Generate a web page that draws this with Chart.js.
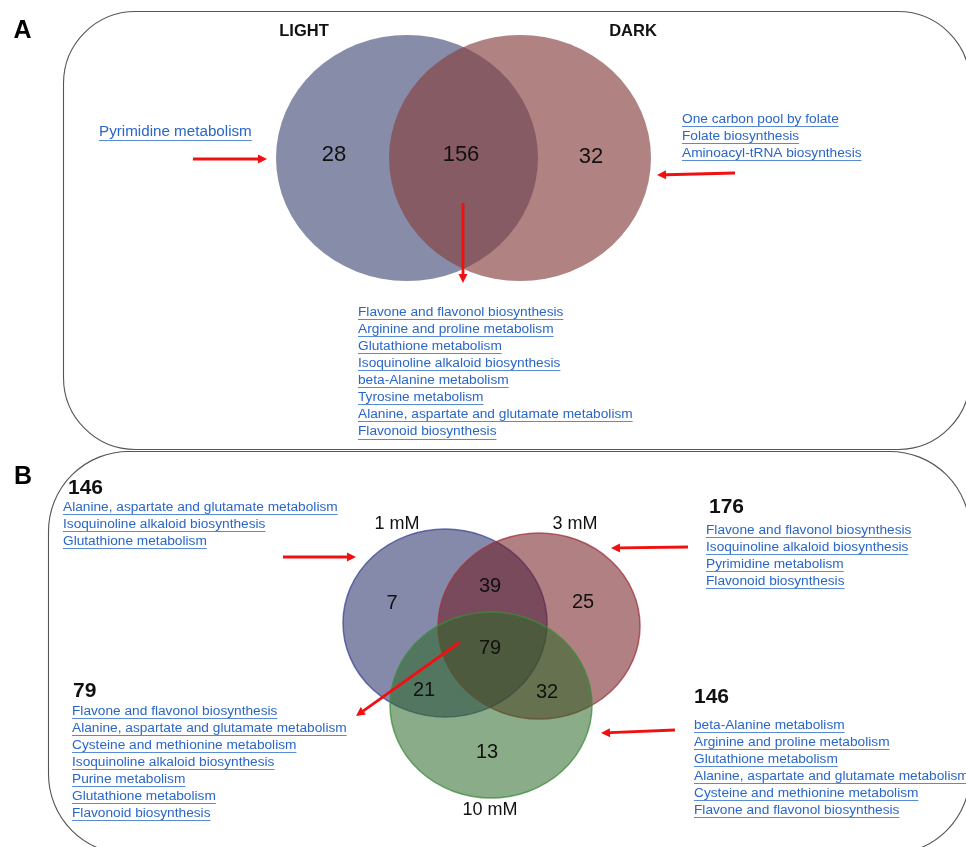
<!DOCTYPE html>
<html>
<head>
<meta charset="utf-8">
<script src="https://cdn.jsdelivr.net/npm/chart.js@4.4.1/dist/chart.umd.min.js"></script>
<style>
  html, body { margin: 0; padding: 0; background: #ffffff; }
  canvas { display: block; }
</style>
</head>
<body>
<canvas id="venn" width="966" height="847"></canvas>
<script>
// ---- Panel A: enriched pathways under light vs dark ----
const lightDarkSets = ['LIGHT', 'DARK'];
const lightDarkCounts = [28, 156, 32];            // light only, shared, dark only
const lightOnlyPathways = ['Pyrimidine metabolism'];
const darkOnlyPathways = [
  'One carbon pool by folate',
  'Folate biosynthesis',
  'Aminoacyl-tRNA biosynthesis'
];
const sharedLightDarkPathways = [
  'Flavone and flavonol biosynthesis',
  'Arginine and proline metabolism',
  'Glutathione metabolism',
  'Isoquinoline alkaloid biosynthesis',
  'beta-Alanine metabolism',
  'Tyrosine metabolism',
  'Alanine, aspartate and glutamate metabolism',
  'Flavonoid biosynthesis'
];

// ---- Panel B: enriched pathways at three concentrations ----
const doseSets = ['1 mM', '3 mM', '10 mM'];
// 1 only, 1&3, 3 only, all three, 1&10, 3&10, 10 only
const doseCounts = [7, 39, 25, 79, 21, 32, 13];
const doseTotals = [146, 176, 146];
const doseCoreTotal = 79;
const dose1Pathways = [
  'Alanine, aspartate and glutamate metabolism',
  'Isoquinoline alkaloid biosynthesis',
  'Glutathione metabolism'
];
const dose3Pathways = [
  'Flavone and flavonol biosynthesis',
  'Isoquinoline alkaloid biosynthesis',
  'Pyrimidine metabolism',
  'Flavonoid biosynthesis'
];
const dose10Pathways = [
  'beta-Alanine metabolism',
  'Arginine and proline metabolism',
  'Glutathione metabolism',
  'Alanine, aspartate and glutamate metabolism',
  'Cysteine and methionine metabolism',
  'Flavone and flavonol biosynthesis'
];
const doseCorePathways = [
  'Flavone and flavonol biosynthesis',
  'Alanine, aspartate and glutamate metabolism',
  'Cysteine and methionine metabolism',
  'Isoquinoline alkaloid biosynthesis',
  'Purine metabolism',
  'Glutathione metabolism',
  'Flavonoid biosynthesis'
];

// ---- layout (scale units equal canvas pixels) ----
const W = 966, H = 847;
const FONT = '"Liberation Sans", Arial, Helvetica, sans-serif';
const LINK = '#2a66c8';
const LINK_LINE = 'rgba(70,125,210,0.9)';

const circlesA = [
  { cx: 407, cy: 158, rx: 131, ry: 123, fill: 'rgba(73,81,123,0.66)', stroke: null },
  { cx: 520, cy: 158, rx: 131, ry: 123, fill: 'rgba(135,66,66,0.66)', stroke: null }
];
const circlesB = [
  { cx: 445, cy: 623, rx: 102, ry: 94, fill: 'rgba(33,40,100,0.55)', stroke: 'rgba(60,70,150,0.75)' },
  { cx: 539, cy: 626, rx: 101, ry: 93, fill: 'rgba(111,24,28,0.55)', stroke: 'rgba(160,50,60,0.75)' },
  { cx: 491, cy: 705, rx: 101, ry: 93, fill: 'rgba(42,104,39,0.55)', stroke: 'rgba(60,140,60,0.75)' }
];
const countSpotsA = [[334, 155], [461, 155], [591, 157]];
const countSpotsB = [[392, 603], [490, 586], [583, 602], [490, 648], [424, 690], [547, 692], [487, 752]];
const setTitlesA = [[304, 31], [633, 31]];
const setTitlesB = [[397, 524], [575, 524], [490, 810]];

const arrows = [
  [193, 159, 267, 159], [735, 173, 657, 175], [463, 203, 463, 283],
  [283, 557, 356, 557], [688, 547, 611, 548], [460, 642, 356, 716], [675, 730, 601, 733]
];

// ellipse sprite used as the point style of each Venn set
function ellipseSprite(c) {
  const cv = document.createElement('canvas');
  cv.width = Math.ceil(c.rx * 2 + 4);
  cv.height = Math.ceil(c.ry * 2 + 4);
  const g = cv.getContext('2d');
  g.beginPath();
  g.ellipse(cv.width / 2, cv.height / 2, c.rx, c.ry, 0, 0, Math.PI * 2);
  g.fillStyle = c.fill;
  g.fill();
  if (c.stroke) {
    g.lineWidth = 1.5;
    g.strokeStyle = c.stroke;
    g.stroke();
  }
  return cv;
}
const spritesA = circlesA.map(ellipseSprite);
const spritesB = circlesB.map(ellipseSprite);

function roundedBox(ctx, x0, y0, x1, y1, r) {
  ctx.beginPath();
  ctx.moveTo(x0 + r, y0);
  ctx.lineTo(x1 - r, y0);
  ctx.arcTo(x1, y0, x1, y0 + r, r);
  ctx.lineTo(x1, y1 - r);
  ctx.arcTo(x1, y1, x1 - r, y1, r);
  ctx.lineTo(x0 + r, y1);
  ctx.arcTo(x0, y1, x0, y1 - r, r);
  ctx.lineTo(x0, y0 + r);
  ctx.arcTo(x0, y0, x0 + r, y0, r);
  ctx.closePath();
  ctx.stroke();
}

const framePlugin = {
  id: 'panelFrames',
  beforeDatasetsDraw(chart) {
    const ctx = chart.ctx;
    ctx.save();
    ctx.strokeStyle = '#555555';
    ctx.lineWidth = 1.1;
    roundedBox(ctx, 63.5, 11.5, 970, 449.5, 72);
    roundedBox(ctx, 48.5, 451.5, 970, 854, 80);
    ctx.restore();
  }
};

const annotationPlugin = {
  id: 'vennText',
  afterDatasetsDraw(chart) {
    const ctx = chart.ctx;
    const sx = chart.scales.x, sy = chart.scales.y;
    const px = v => sx.getPixelForValue(v);
    const py = v => sy.getPixelForValue(v);

    function text(str, x, y, font, color, align) {
      ctx.font = font;
      ctx.fillStyle = color;
      ctx.textAlign = align || 'center';
      ctx.textBaseline = 'middle';
      ctx.fillText(str, px(x), py(y));
    }
    function linkList(items, x, y0, step, size) {
      ctx.font = size + 'px ' + FONT;
      ctx.textAlign = 'left';
      ctx.textBaseline = 'middle';
      items.forEach((s, i) => {
        const y = py(y0 + i * step);
        const x0 = px(x);
        ctx.fillStyle = LINK;
        ctx.fillText(s, x0, y);
        const w = ctx.measureText(s).width;
        ctx.strokeStyle = LINK_LINE;
        ctx.lineWidth = 1;
        ctx.beginPath();
        ctx.moveTo(x0, Math.round(y + size * 0.5) + 0.5);
        ctx.lineTo(x0 + w, Math.round(y + size * 0.5) + 0.5);
        ctx.stroke();
      });
    }

    ctx.save();
    // panel letters
    text('A', 22.5, 31, 'bold 25px ' + FONT, '#000');
    text('B', 23, 477, 'bold 25px ' + FONT, '#000');

    // set titles
    lightDarkSets.forEach((s, i) => text(s, setTitlesA[i][0], setTitlesA[i][1], 'bold 16.5px ' + FONT, '#111'));
    doseSets.forEach((s, i) => text(s, setTitlesB[i][0], setTitlesB[i][1], '18px ' + FONT, '#111'));

    // region counts
    lightDarkCounts.forEach((v, i) => text(String(v), countSpotsA[i][0], countSpotsA[i][1], '22px ' + FONT, '#111'));
    doseCounts.forEach((v, i) => text(String(v), countSpotsB[i][0], countSpotsB[i][1], '20px ' + FONT, '#111'));

    // pathway lists, panel A
    linkList(lightOnlyPathways, 99, 132, 17, 15.2);
    linkList(darkOnlyPathways, 682, 119, 17, 13.7);
    linkList(sharedLightDarkPathways, 358, 312, 17.1, 13.7);

    // pathway lists, panel B
    text(String(doseTotals[0]), 68, 488, 'bold 21px ' + FONT, '#111', 'left');
    linkList(dose1Pathways, 63, 507, 17, 13.7);
    text(String(doseTotals[1]), 709, 507, 'bold 21px ' + FONT, '#111', 'left');
    linkList(dose3Pathways, 706, 530, 17, 13.7);
    text(String(doseCoreTotal), 73, 691, 'bold 21px ' + FONT, '#111', 'left');
    linkList(doseCorePathways, 72, 711, 17, 13.7);
    text(String(doseTotals[2]), 694, 697, 'bold 21px ' + FONT, '#111', 'left');
    linkList(dose10Pathways, 694, 725, 17, 13.7);

    // red pointer arrows
    ctx.strokeStyle = '#f01010';
    ctx.fillStyle = '#f01010';
    ctx.lineWidth = 2.8;
    arrows.forEach(a => {
      const x0 = px(a[0]), y0 = py(a[1]), x1 = px(a[2]), y1 = py(a[3]);
      const ang = Math.atan2(y1 - y0, x1 - x0);
      const head = 9, half = 4.5;
      const bx = x1 - Math.cos(ang) * head, by = y1 - Math.sin(ang) * head;
      ctx.beginPath();
      ctx.moveTo(x0, y0);
      ctx.lineTo(bx, by);
      ctx.stroke();
      ctx.beginPath();
      ctx.moveTo(x1, y1);
      ctx.lineTo(bx - Math.sin(ang) * half, by + Math.cos(ang) * half);
      ctx.lineTo(bx + Math.sin(ang) * half, by - Math.cos(ang) * half);
      ctx.closePath();
      ctx.fill();
    });
    ctx.restore();
  }
};

new Chart(document.getElementById('venn'), {
  type: 'scatter',
  data: {
    datasets: [
      {
        label: doseSets.join(' / '),
        data: circlesB.map(c => ({ x: c.cx, y: c.cy })),
        pointStyle: ctx => spritesB[ctx.dataIndex],
        pointRadius: 1,
        showLine: false
      },
      {
        label: lightDarkSets.join(' / '),
        data: circlesA.map(c => ({ x: c.cx, y: c.cy })),
        pointStyle: ctx => spritesA[ctx.dataIndex],
        pointRadius: 1,
        showLine: false
      }
    ]
  },
  options: {
    responsive: false,
    animation: false,
    events: [],
    layout: { padding: 0, autoPadding: false },
    plugins: { legend: { display: false }, tooltip: { enabled: false } },
    scales: {
      x: { type: 'linear', min: 0, max: W, display: false },
      y: { type: 'linear', min: 0, max: H, reverse: true, display: false }
    }
  },
  plugins: [framePlugin, annotationPlugin]
});
</script>
</body>
</html>
